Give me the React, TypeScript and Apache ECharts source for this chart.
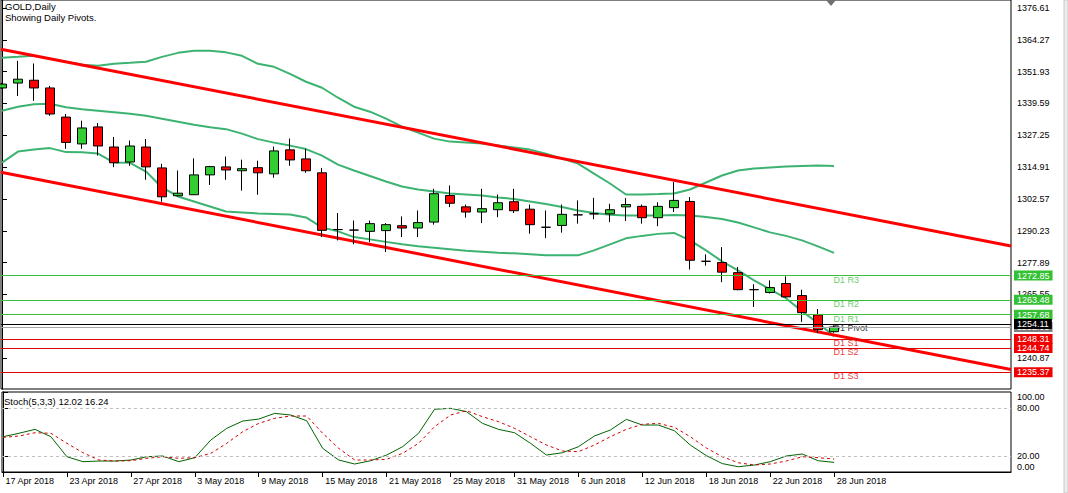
import React, { useEffect, useRef } from 'react';
import * as echarts from 'echarts';

const dates = [
  '17 Apr 2018', '18 Apr 2018', '19 Apr 2018', '20 Apr 2018', '23 Apr 2018', '24 Apr 2018', '25 Apr 2018', '26 Apr 2018', '27 Apr 2018', '30 Apr 2018',
  '1 May 2018', '2 May 2018', '3 May 2018', '4 May 2018', '7 May 2018', '8 May 2018', '9 May 2018', '10 May 2018', '11 May 2018', '14 May 2018',
  '15 May 2018', '16 May 2018', '17 May 2018', '18 May 2018', '21 May 2018', '22 May 2018', '23 May 2018', '24 May 2018', '25 May 2018', '28 May 2018',
  '29 May 2018', '30 May 2018', '31 May 2018', '1 Jun 2018', '4 Jun 2018', '5 Jun 2018', '6 Jun 2018', '7 Jun 2018', '8 Jun 2018', '11 Jun 2018',
  '12 Jun 2018', '13 Jun 2018', '14 Jun 2018', '15 Jun 2018', '18 Jun 2018', '19 Jun 2018', '20 Jun 2018', '21 Jun 2018', '22 Jun 2018', '25 Jun 2018',
  '26 Jun 2018', '27 Jun 2018', '28 Jun 2018',
];

const dateTicks = [
  '17 Apr 2018', '23 Apr 2018', '27 Apr 2018', '3 May 2018', '9 May 2018', '15 May 2018', '21 May 2018',
  '25 May 2018', '31 May 2018', '6 Jun 2018', '12 Jun 2018', '18 Jun 2018', '22 Jun 2018', '28 Jun 2018',
];

const opens = [
  1345.6, 1347.5, 1348.6, 1345.6, 1334.3, 1323.9, 1330.5, 1322.7, 1316.9, 1322.7,
  1314.6, 1303.8, 1304.2, 1311.9, 1315.0, 1313.5, 1314.7, 1312.3, 1321.6, 1318.1,
  1312.7, 1290.7, 1290.5, 1290.0, 1290.3, 1292.2, 1291.3, 1293.6, 1303.9, 1299.5,
  1297.5, 1298.4, 1301.5, 1298.6, 1291.6, 1292.3, 1296.4, 1296.8, 1296.8, 1299.5,
  1299.7, 1295.3, 1299.2, 1301.6, 1278.4, 1277.9, 1274.0, 1267.4, 1266.3, 1269.8,
  1265.1, 1257.6, 1251.1,
];
const closes = [
  1347.1, 1349.0, 1345.6, 1335.5, 1324.5, 1330.1, 1323.1, 1316.6, 1323.1, 1315.0,
  1303.4, 1304.8, 1311.9, 1315.1, 1313.8, 1314.3, 1312.7, 1321.2, 1317.7, 1313.5,
  1290.4, 1290.7, 1290.5, 1293.0, 1292.6, 1291.3, 1293.4, 1304.6, 1300.9, 1297.5,
  1298.8, 1301.1, 1298.0, 1292.6, 1291.6, 1296.6, 1296.4, 1296.8, 1298.4, 1300.4,
  1295.3, 1299.7, 1302.0, 1278.8, 1278.4, 1274.2, 1267.4, 1267.4, 1268.2, 1264.6,
  1258.5, 1251.88, 1252.95,
];
const lows = [
  1345.3, 1342.5, 1340.6, 1334.8, 1322.0, 1322.0, 1319.4, 1314.9, 1315.4, 1310.0,
  1301.5, 1303.6, 1304.1, 1308.0, 1310.0, 1305.8, 1304.2, 1310.8, 1315.4, 1312.7,
  1287.8, 1286.5, 1285.0, 1285.8, 1282.0, 1287.8, 1287.8, 1292.6, 1299.4, 1295.3,
  1293.2, 1295.5, 1297.1, 1289.1, 1287.4, 1289.5, 1293.0, 1294.7, 1293.6, 1294.0,
  1293.0, 1292.0, 1297.5, 1275.2, 1276.7, 1270.3, 1267.2, 1260.7, 1265.9, 1264.3,
  1254.9, 1250.54, 1250.7,
];
const highs = [
  1347.6, 1356.1, 1355.1, 1346.4, 1335.5, 1332.9, 1332.0, 1326.6, 1325.2, 1325.8,
  1316.2, 1313.6, 1318.3, 1315.4, 1319.0, 1317.8, 1317.4, 1322.9, 1326.0, 1322.0,
  1314.6, 1297.1, 1294.2, 1294.2, 1293.2, 1295.8, 1298.1, 1306.5, 1307.8, 1300.4,
  1306.5, 1304.3, 1306.5, 1300.4, 1298.1, 1300.4, 1302.0, 1303.0, 1300.7, 1302.9,
  1300.4, 1301.3, 1309.1, 1303.3, 1281.1, 1283.9, 1276.2, 1269.5, 1271.0, 1272.6,
  1267.4, 1259.91, 1253.6,
];

const bbUpper = [
  1357.28, 1357.66, 1358.05, 1356.89, 1355.73, 1354.57, 1354.18, 1354.96, 1355.34, 1355.73,
  1357.66, 1359.21, 1359.98, 1359.98, 1359.40, 1358.05, 1354.96, 1353.80, 1351.09, 1348.00,
  1345.68, 1341.81, 1338.33, 1336.40, 1333.69, 1330.60, 1328.28, 1325.96, 1324.80, 1324.41,
  1324.02, 1323.25, 1322.48, 1321.70, 1320.15, 1318.22, 1316.29, 1312.42, 1308.55, 1304.30,
  1304.30, 1304.49, 1304.69, 1306.23, 1308.94, 1311.65, 1313.58, 1314.35, 1314.74, 1315.13,
  1315.32, 1315.51, 1315.32,
];
const bbMiddle = [
  1336.78, 1338.33, 1339.30, 1339.49, 1338.14, 1337.36, 1336.78, 1336.20, 1335.62, 1334.85,
  1333.69, 1332.53, 1331.37, 1330.40, 1329.63, 1327.89, 1325.76, 1324.41, 1323.25, 1321.90,
  1319.38, 1315.90, 1313.58, 1311.45, 1309.33, 1307.39, 1306.23, 1305.46, 1304.69, 1304.30,
  1303.91, 1303.14, 1302.56, 1301.59, 1300.63, 1299.47, 1298.11, 1297.15, 1296.45, 1296.18,
  1296.18, 1296.18, 1296.37, 1296.18, 1295.60, 1294.83, 1293.47, 1291.54, 1289.61, 1288.25,
  1286.51, 1284.19, 1281.68,
];
const bbLower = [
  1316.67, 1320.93, 1321.70, 1322.28, 1320.73, 1320.66, 1320.15, 1316.67, 1316.56, 1313.19,
  1307.01, 1303.53, 1301.59, 1299.66, 1297.73, 1297.34, 1296.95, 1296.76, 1296.57, 1295.41,
  1291.54, 1289.99, 1287.79, 1286.90, 1285.93, 1284.97, 1284.19, 1283.61, 1283.03, 1282.45,
  1282.07, 1281.68, 1281.48, 1281.10, 1280.71, 1280.71, 1280.71, 1282.64, 1284.97, 1287.29,
  1288.25, 1289.03, 1289.41, 1286.51, 1282.64, 1278.39, 1274.91, 1271.04, 1267.56, 1264.08,
  1259.06, 1254.42, 1249.39,
];

const stochK = [
  44.1, 48.4, 53.3, 44.1, 19.1, 12.9, 13.7, 13.7, 15.0, 19.1,
  20.0, 12.9, 17.9, 40.0, 54.6, 63.7, 66.2, 73.3, 71.2, 64.1,
  29.6, 15.0, 10.0, 14.1, 21.2, 31.6, 48.4, 78.4, 79.6, 75.4,
  60.8, 53.3, 49.1, 35.9, 21.2, 24.1, 31.6, 45.0, 52.5, 65.8,
  58.7, 58.7, 51.6, 33.7, 20.5, 10.5, 6.6, 8.7, 12.9, 20.0,
  22.5, 14.1, 12.02,
];
const stochD = [
  43.3, 45.0, 49.1, 48.4, 35.9, 24.1, 15.0, 13.7, 14.1, 17.1,
  19.1, 17.1, 17.9, 23.3, 35.9, 50.4, 60.8, 67.1, 70.0, 70.0,
  48.4, 29.6, 15.0, 15.0, 15.9, 23.3, 35.9, 56.6, 71.2, 76.6,
  69.1, 62.9, 54.6, 44.1, 33.7, 26.2, 25.4, 33.7, 44.1, 53.3,
  59.6, 60.8, 55.9, 44.1, 30.0, 19.1, 11.6, 8.7, 10.0, 13.7,
  19.1, 17.9, 16.24,
];

// trend channel lines: [barIndex, price] end points
const trendUpper = [[-0.0625, 1360.64], [63.0625, 1284.35]];
const trendLower = [[-0.0625, 1312.92], [63.0625, 1236.43]];

const pivotNames = ['D1 R3', 'D1 R2', 'D1 R1', 'D1 Pivot', 'D1 S1', 'D1 S2', 'D1 S3'];
const pivotValues = [1272.85, 1263.48, 1257.68, 1254.11, 1248.31, 1244.74, 1235.37];
const pivotKinds = ['R', 'R', 'R', 'P', 'S', 'S', 'S'];
const bidPrice = 1252.95;

const yTicks = [1376.61, 1364.27, 1351.93, 1339.59, 1327.25, 1314.91, 1302.57, 1290.23, 1277.89, 1265.55, 1240.87];
const stochTicks = [100, 80, 20, 0];
const stochLevels = [80, 20];

const FONT = 'Liberation Sans';
const GREEN = '#32CD32';
const RED = '#FF0000';
const kindColor: Record<string, string> = { R: '#3CC03C', P: '#000000', S: '#E00000' };
const kindBg: Record<string, string> = { R: '#33C033', P: '#000000', S: '#F00000' };

const X_MIN = -0.0625;
const X_MAX = 63.0625;

function buildOption() {
  const idx = dates.map((_, i) => i);
  const candleData = idx.map((i) => [i, opens[i], closes[i], lows[i], highs[i]]);
  const tickIdx = dateTicks.map((d) => dates.indexOf(d));
  const band = (arr: number[]) => arr.map((v, i) => [i, v]);

  return {
    animation: false,
    backgroundColor: '#ffffff',
    textStyle: { fontFamily: FONT, fontSize: 9, color: '#000' },
    grid: [
      { left: 1, right: 57, top: -1, height: 390, show: true, borderColor: '#000', borderWidth: 1, backgroundColor: 'transparent' },
      { left: 1, right: 57, top: 392, height: 80, show: true, borderColor: '#000', borderWidth: 1, backgroundColor: 'transparent' },
    ],
    xAxis: [
      { type: 'value', gridIndex: 0, min: X_MIN, max: X_MAX, show: false, splitLine: { show: false } },
      {
        type: 'value', gridIndex: 1, min: X_MIN, max: X_MAX,
        splitLine: { show: false },
        axisLine: { show: true, lineStyle: { color: '#000', width: 1 } },
        axisTick: { show: true, customValues: tickIdx, length: 5, lineStyle: { color: '#000' } },
        axisLabel: {
          show: true, customValues: tickIdx, align: 'left', margin: 4,
          fontFamily: FONT, fontSize: 9, color: '#000',
          formatter: (v: number) => ' ' + (dates[Math.round(v)] ?? ''),
        },
      },
    ],
    yAxis: [
      {
        type: 'value', gridIndex: 0, position: 'right', min: 1228.89, max: 1379.70,
        splitLine: { show: false },
        axisLine: { show: true, lineStyle: { color: '#000', width: 1 } },
        axisTick: { show: true, customValues: yTicks, length: 5, inside: false, lineStyle: { color: '#000' } },
        axisLabel: {
          show: true, customValues: yTicks, margin: 6, fontFamily: FONT, fontSize: 9, color: '#000',
          formatter: (v: number) => v.toFixed(2),
        },
      },
      {
        type: 'value', gridIndex: 1, position: 'right', min: 0, max: 100,
        splitLine: { show: false },
        axisLine: { show: true, lineStyle: { color: '#000', width: 1 } },
        axisTick: { show: true, customValues: stochTicks, length: 5, lineStyle: { color: '#000' } },
        axisLabel: {
          show: true, customValues: stochTicks, margin: 6, fontFamily: FONT, fontSize: 9, color: '#000',
          formatter: (v: number) => {
            const t = v.toFixed(2);
            if (v >= 100) return '{top|' + t + '}';
            if (v <= 0) return '{bot|' + t + '}';
            return t;
          },
          rich: {
            top: { padding: [10, 0, 0, 0], fontFamily: FONT, fontSize: 9, color: '#000' },
            bot: { padding: [0, 0, 10, 0], fontFamily: FONT, fontSize: 9, color: '#000' },
          },
        },
      },
    ],
    series: [
      {
        type: 'line', name: 'bbUpper', xAxisIndex: 0, yAxisIndex: 0, data: band(bbUpper),
        symbol: 'none', lineStyle: { color: '#3CB371', width: 2 }, silent: true,
      },
      {
        type: 'line', name: 'bbMiddle', xAxisIndex: 0, yAxisIndex: 0, data: band(bbMiddle),
        symbol: 'none', lineStyle: { color: '#3CB371', width: 2 }, silent: true,
      },
      {
        type: 'line', name: 'bbLower', xAxisIndex: 0, yAxisIndex: 0, data: band(bbLower),
        symbol: 'none', lineStyle: { color: '#3CB371', width: 2 }, silent: true,
      },
      {
        type: 'scatter', name: 'pivots', xAxisIndex: 0, yAxisIndex: 0,
        symbolSize: 1, itemStyle: { color: 'rgba(0,0,0,0)' }, silent: true, z: 1,
        data: pivotValues.map((v, k) => ({
          value: [dates.length - 1, v],
          name: pivotNames[k],
          label: { color: kindColor[pivotKinds[k]] },
        })),
        label: {
          show: true, position: [0, 0], align: 'left', verticalAlign: 'top',
          fontFamily: FONT, fontSize: 9, formatter: (p: any) => p.name,
        },
        markLine: {
          silent: true, symbol: ['none', 'none'], animation: false,
          label: {
            show: true, position: 'end', distance: 3, color: '#fff', fontFamily: FONT, fontSize: 9,
            padding: [1, 3, 0, 3], formatter: (p: any) => Number(p.value).toFixed(2),
          },
          data: [
            { yAxis: bidPrice, lineStyle: { color: '#A8A8A8', width: 1, type: 'solid' }, label: { backgroundColor: '#808080' } },
            ...pivotValues.map((v, k) => ({
              yAxis: v,
              lineStyle: { color: pivotKinds[k] === 'P' ? '#000' : kindColor[pivotKinds[k]], width: 1, type: 'solid' },
              label: { backgroundColor: kindBg[pivotKinds[k]] },
            })),
          ],
        },
      },
      {
        type: 'line', name: 'trendUpper', xAxisIndex: 0, yAxisIndex: 0, data: trendUpper,
        symbol: 'none', lineStyle: { color: '#FF0000', width: 3 }, silent: true, z: 3,
      },
      {
        type: 'line', name: 'trendLower', xAxisIndex: 0, yAxisIndex: 0, data: trendLower,
        symbol: 'none', lineStyle: { color: '#FF0000', width: 3 }, silent: true, z: 3,
      },
      {
        type: 'candlestick', name: 'GOLD', xAxisIndex: 0, yAxisIndex: 0, data: candleData,
        barWidth: 9, z: 4,
        encode: { x: 0, y: [1, 2, 3, 4] },
        itemStyle: {
          color: GREEN, color0: RED, borderColor: '#000', borderColor0: '#000', borderColorDoji: '#000', borderWidth: 1,
        },
      },
      {
        type: 'line', name: 'stochK', xAxisIndex: 1, yAxisIndex: 1, data: band(stochK),
        symbol: 'none', lineStyle: { color: '#006400', width: 1 }, silent: true, z: 3,
        markLine: {
          silent: true, symbol: ['none', 'none'], label: { show: false },
          lineStyle: { color: '#C0C0C0', width: 1, type: [3, 3] },
          data: stochLevels.map((v) => ({ yAxis: v })),
        },
      },
      {
        type: 'line', name: 'stochD', xAxisIndex: 1, yAxisIndex: 1, data: band(stochD),
        symbol: 'none', lineStyle: { color: '#D00000', width: 1, type: [3, 3] }, silent: true, z: 3,
      },
    ],
    graphic: [
      { type: 'text', left: 5, top: 1, style: { text: 'GOLD,Daily', fontFamily: FONT, fontSize: 9.5, fill: '#000' } },
      { type: 'text', left: 5, top: 12, style: { text: 'Showing Daily Pivots.', fontFamily: FONT, fontSize: 9.5, fill: '#000' } },
      { type: 'text', left: 4, top: 396, style: { text: 'Stoch(5,3,3) ' + stochK[stochK.length - 1].toFixed(2) + ' ' + stochD[stochD.length - 1].toFixed(2), fontFamily: FONT, fontSize: 9.5, fill: '#000' } },
      { type: 'polygon', shape: { points: [[826, 0], [836, 0], [831, 6]] }, style: { fill: '#707070' } },
      { type: 'rect', shape: { x: 1064, y: 0, width: 4, height: 493 }, style: { fill: '#EDEDED', stroke: '#C8C8C8', lineWidth: 1 } },
    ],
  };
}

export default function App() {
  const ref = useRef<HTMLDivElement>(null);
  useEffect(() => {
    if (!ref.current) return;
    const chart = echarts.init(ref.current, null, { renderer: 'svg' });
    chart.setOption(buildOption() as any);
    return () => chart.dispose();
  }, []);
  return (
    <div
      ref={ref}
      style={{ position: 'fixed', left: 0, top: 0, width: 1068, height: 493, background: '#fff' }}
    />
  );
}
